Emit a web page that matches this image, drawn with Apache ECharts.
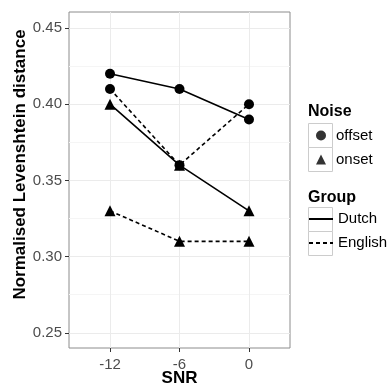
<!DOCTYPE html>
<html><head><meta charset="utf-8">
<script src="https://cdn.jsdelivr.net/npm/echarts@6/dist/echarts.min.js"></script>
<style>html,body{margin:0;padding:0;background:#fff}#c{width:388px;height:388px}</style>
</head><body><div id="c"></div>
<script>
const snr = [-12, -6, 0];
const yTicks = [0.25, 0.30, 0.35, 0.40, 0.45];
const yMinor = [0.275, 0.325, 0.375, 0.425];
const dutchOffset = [0.42, 0.41, 0.39];
const dutchOnset = [0.40, 0.36, 0.33];
const englishOffset = [0.41, 0.36, 0.40];
const englishOnset = [0.33, 0.31, 0.31];

const FONT = 'Liberation Sans, Arial, sans-serif';
const DASH = [4, 3];
const pairs = v => snr.map((s, i) => [s, v[i]]);
function mk(name, vals, sym, dashed) {
  return {
    name, type: 'line', data: pairs(vals), symbol: sym,
    symbolSize: sym === 'circle' ? 10 : 11,
    itemStyle: { color: '#000' },
    lineStyle: { color: '#000', width: 1.6, type: dashed ? DASH : 'solid' },
    z: 5
  };
}
const chart = echarts.init(document.getElementById('c'), null, { renderer: 'canvas' });
chart.setOption({
  animation: false,
  textStyle: { fontFamily: FONT },
  grid: { left: 69, top: 12, width: 221, height: 336, containLabel: false, outerBoundsMode: 'none', show: true, borderColor: '#8c8c8c', borderWidth: 1, backgroundColor: '#fff' },
  xAxis: {
    type: 'value', min: -15.54, max: 3.54,
    name: 'SNR', nameLocation: 'middle', nameGap: 22, nameMoveOverlap: false,
    nameTextStyle: { fontFamily: FONT, fontWeight: 'bold', fontSize: 17, color: '#000' },
    axisLine: { show: false, onZero: false },
    axisTick: { show: true, length: 4, customValues: snr, lineStyle: { color: '#333' } },
    axisLabel: { customValues: snr, margin: 9, color: '#4d4d4d', fontSize: 15, fontFamily: FONT, formatter: v => String(v) },
    splitLine: { show: true, lineStyle: { color: '#ebebeb', width: 1 } }
  },
  yAxis: [{
    type: 'value', min: 0.24, max: 0.4605,
    name: 'Normalised Levenshtein distance', nameLocation: 'middle', nameGap: 40, nameMoveOverlap: false,
    nameTextStyle: { fontFamily: FONT, fontWeight: 'bold', fontSize: 17, color: '#000', padding: [0, 0, 0, 31] },
    axisLine: { show: false, onZero: false },
    axisTick: { show: true, length: 4, customValues: yTicks, lineStyle: { color: '#333' } },
    axisLabel: { customValues: yTicks, margin: 7, color: '#4d4d4d', fontSize: 15, fontFamily: FONT, formatter: v => v.toFixed(2) },
    splitLine: { show: true, lineStyle: { color: '#ebebeb', width: 1 } }
  }, {
    type: 'value', min: 0.24, max: 0.4605, position: 'left',
    axisLine: { show: false, onZero: false }, axisLabel: { show: false },
    axisTick: { show: false, customValues: yMinor },
    splitLine: { show: true, lineStyle: { color: '#f5f5f5', width: 1 } }
  }],
  title: [
    { text: 'Noise', left: 308, top: 104, padding: 0, textStyle: { fontFamily: FONT, fontWeight: 'bold', fontSize: 16, color: '#000' } },
    { text: 'Group', left: 308, top: 190, padding: 0, textStyle: { fontFamily: FONT, fontWeight: 'bold', fontSize: 16, color: '#000' } }
  ],
  graphic: [
    { type: 'rect', shape: { x: 308.5, y: 123.5, width: 24, height: 24 }, style: { fill: '#fff', stroke: '#cccccc', lineWidth: 1 }, z: 0 },
    { type: 'rect', shape: { x: 308.5, y: 147.5, width: 24, height: 24 }, style: { fill: '#fff', stroke: '#cccccc', lineWidth: 1 }, z: 0 },
    { type: 'rect', shape: { x: 308.5, y: 207.5, width: 24, height: 24 }, style: { fill: '#fff', stroke: '#cccccc', lineWidth: 1 }, z: 0 },
    { type: 'rect', shape: { x: 308.5, y: 231.5, width: 24, height: 24 }, style: { fill: '#fff', stroke: '#cccccc', lineWidth: 1 }, z: 0 }
  ],
  legend: [{
    orient: 'vertical', left: 316, top: 127.5, padding: 0,
    itemWidth: 10, itemHeight: 10, itemGap: 8,
    data: [{ name: 'offset', icon: 'circle' }, { name: 'onset', icon: 'triangle' }],
    textStyle: { fontFamily: FONT, fontSize: 15, color: '#000', lineHeight: 16, padding: [0, 0, 0, 5] },
    selectedMode: false
  }, {
    orient: 'vertical', left: 308, top: 211, padding: 0,
    itemWidth: 24, itemHeight: 10, itemGap: 8,
    data: ['Dutch', 'English'],
    itemStyle: { opacity: 0 },
    textStyle: { fontFamily: FONT, fontSize: 15, color: '#000', lineHeight: 16 },
    selectedMode: false
  }],
  series: [
    mk('Dutch offset', dutchOffset, 'circle', false),
    mk('Dutch onset', dutchOnset, 'triangle', false),
    mk('English offset', englishOffset, 'circle', true),
    mk('English onset', englishOnset, 'triangle', true),
    { name: 'offset', type: 'scatter', data: [], symbol: 'circle', itemStyle: { color: '#000' } },
    { name: 'onset', type: 'scatter', data: [], symbol: 'triangle', itemStyle: { color: '#000' } },
    { name: 'Dutch', type: 'line', data: [], symbol: 'none', itemStyle: { color: '#000' }, lineStyle: { color: '#000', width: 1.6, type: 'solid' } },
    { name: 'English', type: 'line', data: [], symbol: 'none', itemStyle: { color: '#000' }, lineStyle: { color: '#000', width: 1.6, type: DASH } }
  ]
});
</script></body></html>
